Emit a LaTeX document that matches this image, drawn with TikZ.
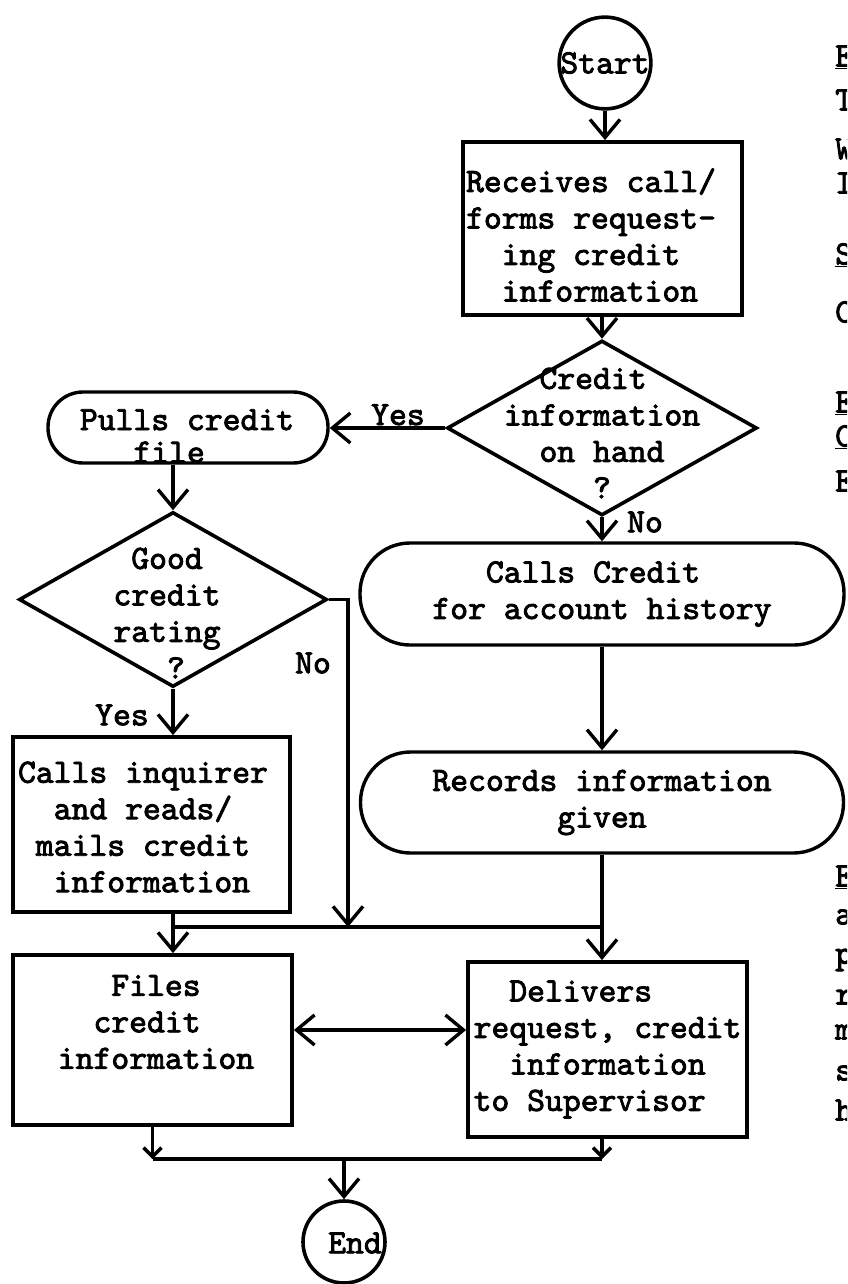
\documentclass[tikz,border=0pt]{standalone}
\usepackage{fontspec}
\usetikzlibrary{arrows.meta,shapes.geometric}
% typewriter face, darkened like ribbon ink
\newfontfamily\typew{lmmono10-regular.otf}[FakeBold=2.5]
% skip a number of typewriter character cells
\newcommand\chskip[1]{\hspace*{#1\fontcharwd\font`x}}

\tikzset{
  every node/.style={inner sep=0pt, font=\typew\fontsize{34}{36.5}\selectfont},
  txt/.style={},
  proc/.style={draw, rectangle, line width=3.8pt, align=left},
  term/.style={draw, rectangle, line width=3.4pt, align=left},
  decision/.style={draw, diamond, line width=3.6pt},
  terminal/.style={draw, circle, line width=3.6pt},
  line/.style={line width=3.4pt},
  flow/.style={line width=3.4pt, -{Straight Barb[length=18pt,width=30pt]}},
  twoway/.style={line width=3.4pt, {Straight Barb[length=18pt,width=30pt]}-{Straight Barb[length=18pt,width=30pt]}},
  shortflow/.style={line width=3.4pt, -{Straight Barb[length=9pt,width=18pt]}},
  note/.style={anchor=west}
}

\begin{document}
\begin{tikzpicture}[x=1pt,y=-1pt]
\useasboundingbox (0,0) rectangle (847,1284);
\clip (0,0) rectangle (847,1284);
\fill[white] (0,0) rectangle (847,1284);

% ---- right-hand flow ----
\node[terminal, minimum size=90pt] (start) at (605,63) {Start};
\node[proc, minimum width=279pt, minimum height=173pt] (recv) at (602.5,228.5) {};
\node[txt, align=left] (recvtxt) at (591,235)
  {Receives call/\\forms request-\\\chskip{2}ing credit\\\chskip{2}information};
\node[decision, minimum width=310pt, minimum height=175pt] (d1) at (602,428) {};
\node[txt, align=left] (d1txt) at (602,433)
  {\chskip{2}Credit\\information\\\chskip{2}on hand\\\chskip{5}?};
\node[term, minimum width=484pt, minimum height=102pt, rounded corners=50pt] (ask) at (602,594)
  {\chskip{3}Calls Credit\\for account history};
\node[term, minimum width=483pt, minimum height=101pt, rounded corners=50pt] (rec) at (602,802.5)
  {Records information\\\chskip{7}given};
\node[proc, minimum width=279pt, minimum height=175pt] (deliv) at (607.5,1049.5)
  {\chskip{2}Delivers\\request, credit\\\chskip{2}information\\to Supervisor};

% ---- left-hand flow ----
\node[term, minimum width=280pt, minimum height=71pt, rounded corners=35pt] (pulls) at (188,427.5) {};
\node[txt, align=left] (pullstxt) at (187,436) {Pulls credit\\[-4pt]\chskip{3}file};
\node[decision, minimum width=308pt, minimum height=175pt] (d2) at (173,599.5) {};
\node[txt, align=left] (d2txt) at (167,613) {\chskip{1}Good\\credit\\rating\\\chskip{3}?};
\node[proc, minimum width=277pt, minimum height=175pt] (inq) at (151.5,824.5) {};
\node[txt, align=left] (inqtxt) at (143,827)
  {Calls inquirer\\\chskip{2}and reads/\\\chskip{1}mails credit\\\chskip{2}information};
\node[proc, minimum width=279pt, minimum height=170pt] (files) at (152.5,1040) {};
\node[txt, align=left] (filestxt) at (156,1022) {\chskip{3}Files\\\chskip{2}credit\\information};

\node[terminal, minimum size=82pt] (end) at (344,1242) {};
\node[txt] (endtxt) at (355,1243) {End};

% ---- branch labels ----
\node[txt, anchor=base] (yes1) at (398,425) {Yes};
\node[txt] (no1) at (645,522) {No};
\node[txt] (no2) at (313,663) {No};
\node[txt] (yes2) at (122,715) {Yes};

% ---- junction points ----
\coordinate (mergeL) at (173,927);
\coordinate (noDrop) at (348,927);
\coordinate (link) at (380,1030);
\coordinate (joinL) at (152.5,1159);
\coordinate (joinM) at (344,1159);

% ---- connectors ----
\draw[flow] (start.south) -- (start.south |- recv.north);
\draw[flow] (recv.south -| d1.north) -- (d1.north);
\draw[flow] (d1.west) -- (pulls.east |- d1.west);
\draw[flow] (pulls.south -| d2.north) -- (d2.north);
\draw[flow] (d2.south) -- (d2.south |- inq.north);
\draw[flow] (d2.east) -| (noDrop);
\draw[flow] (d2.south |- inq.south) -- (d2.south |- files.north);
\draw[line] (mergeL) -- (mergeL -| rec.south);
\draw[flow] (d1.south) -- (ask.north);
\draw[flow] (ask.south) -- (rec.north);
\draw[flow] (rec.south) -- (rec.south |- deliv.north);
\draw[twoway] (files.east |- link) -- (deliv.west |- link);
\draw[shortflow] (files.south) -- (joinL);
\draw[shortflow] (rec.south |- deliv.south) -- (rec.south |- joinL);
\draw[line] (joinL) -- (rec.south |- joinL);
\draw[flow] (joinM) -- (end.north);

% ---- margin of the neighbouring text column ----
\foreach \y/\t [count=\i] in {57/{\underline{E}},100/T,149/W,183/I,255/{\underline{S}},
    312/C,403/{\underline{E}},437/{\underline{C}},481/E,
    877/{\underline{E}},917/a,960/p,997/r,1032/m,1073/s,1110/h}
  \node[note] (margin\i) at (835,\y) {\t};
\end{tikzpicture}
\end{document}
